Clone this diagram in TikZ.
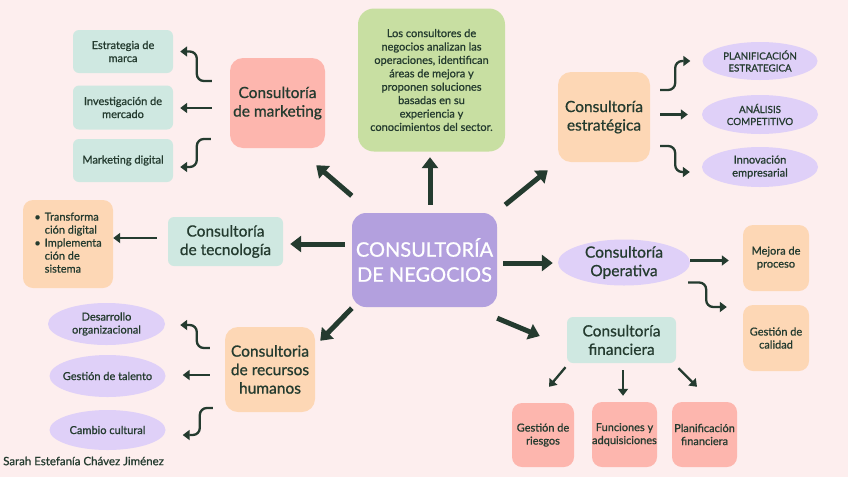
\documentclass[tikz,border=0pt]{standalone}
\usepackage{fontspec}
\setmainfont{Lato}[FakeBold=0.8]
\usetikzlibrary{arrows.meta,calc,shapes.geometric}
\definecolor{bg}{HTML}{FDEEEE}
\definecolor{mint}{HTML}{CFE8E1}
\definecolor{pinkc}{HTML}{FDB6AE}
\definecolor{peach}{HTML}{FDD7B5}
\definecolor{lav}{HTML}{DFD0F8}
\definecolor{purp}{HTML}{B3A0DE}
\definecolor{greenc}{HTML}{C8DFA2}
\definecolor{ink}{HTML}{243B2F}
\tikzset{
  base/.style={inner sep=0pt, align=center, text=ink},
  smalltxt/.style={font=\fontsize{11}{13}\selectfont},
  titletxt/.style={font=\fontsize{15.5}{18.5}\selectfont},
  sqbox/.style={base, rounded corners=6pt},
  ell/.style={ellipse, fill=lav, inner sep=0pt},
  labtxt/.style={base, smalltxt},
  big/.style={line width=5pt, draw=ink, -{Triangle[length=11pt,width=16pt]}},
  thinarr/.style={line width=2.3pt, draw=ink, rounded corners=7pt, -{Triangle[length=7pt,width=10pt]}},
}
\begin{document}
\begin{tikzpicture}[x=1pt,y=-1pt]
\useasboundingbox (0,0) rectangle (848,477);
\fill[bg] (0,0) rectangle (848,477);

% central
\node[sqbox, rounded corners=14pt, fill=purp, minimum width=145, minimum height=94, text=white,
  font=\fontsize{20}{25}\selectfont] (c) at (424.5,260) {CONSULTORÍA\\DE NEGOCIOS};

% description
\node[sqbox, rounded corners=16pt, fill=greenc, minimum width=147, minimum height=143,
  font=\fontsize{11}{13.4}\selectfont] (g) at (431.5,80)
  {Los consultores de\\negocios analizan las\\operaciones, identifican\\áreas de mejora y\\proponen soluciones\\basadas en su\\experiencia y\\conocimientos del sector.};

% marketing
\node[sqbox, rounded corners=13pt, fill=pinkc, minimum width=95, minimum height=90, titletxt] (mkt) at (277.5,103) {Consultoría\\de marketing};
\node[sqbox, fill=mint, minimum width=100, minimum height=43, smalltxt] (s1) at (123,51.5) {Estrategia de\\marca};
\node[sqbox, fill=mint, minimum width=100, minimum height=44, smalltxt] (s2) at (123,107.5) {Investigación de\\mercado};
\node[sqbox, fill=mint, minimum width=100, minimum height=43, smalltxt] (s3) at (123,160.5) {Marketing digital};

% estrategica
\node[sqbox, rounded corners=13pt, fill=peach, minimum width=92, minimum height=90, titletxt] (str) at (604,117) {Consultoría\\estratégica};
\node[ell, minimum width=115, minimum height=38] (e1) at (760,61) {};
\node[labtxt, font=\fontsize{9.8}{12}\selectfont] (e1t) at (e1) {PLANIFICACIÓN\\ESTRATEGICA};
\node[ell, minimum width=116, minimum height=39] (e2) at (760,114.5) {};
\node[labtxt, font=\fontsize{9.8}{12}\selectfont] (e2t) at (e2) {ANÁLISIS\\COMPETITIVO};
\node[ell, minimum width=116, minimum height=40] (e3) at (760,167) {};
\node[labtxt] (e3t) at (e3) {Innovación\\empresarial};

% tecnologia
\node[sqbox, fill=mint, minimum width=115, minimum height=49, titletxt] (tec) at (225.5,241.5) {Consultoría\\de tecnología};
\node[sqbox, rounded corners=10pt, fill=peach, minimum width=90, minimum height=88, smalltxt] (bul) at (68,244)
  {\begin{tabular}{@{}l@{\hspace{4pt}}l@{}}\textbullet & Transforma\\ & ción digital\\ \textbullet & Implementa\\ & ción de\\ & sistema\end{tabular}};

% operativa
\node[ell, minimum width=132, minimum height=46] (op) at (624,262.5) {};
\node[base, titletxt] (opt) at (op) {Consultoría\\Operativa};
\node[sqbox, rounded corners=10pt, fill=peach, minimum width=66, minimum height=66, smalltxt] (mej) at (776,258) {Mejora de\\proceso};
\node[sqbox, rounded corners=10pt, fill=peach, minimum width=66, minimum height=66, smalltxt] (cal) at (776,338) {Gestión de\\calidad};

% financiera
\node[sqbox, fill=mint, minimum width=109, minimum height=46, titletxt] (fin) at (621.5,340) {Consultoría\\financiera};
\node[sqbox, rounded corners=10pt, fill=pinkc, minimum width=62, minimum height=64, smalltxt] (rie) at (543,435) {Gestión de\\riesgos};
\node[sqbox, rounded corners=10pt, fill=pinkc, minimum width=65, minimum height=65, smalltxt] (fun) at (624.5,434.5) {Funciones y\\adquisiciones};
\node[sqbox, rounded corners=10pt, fill=pinkc, minimum width=65, minimum height=65, smalltxt] (pla) at (704.5,434.5) {Planificación\\financiera};

% recursos humanos
\node[sqbox, rounded corners=13pt, fill=peach, minimum width=90, minimum height=85, titletxt] (rh) at (270,369.5) {Consultoria\\de recursos\\humanos};
\node[ell, minimum width=117, minimum height=42] (d1) at (106.5,324) {};
\node[labtxt] (d1t) at (d1) {Desarrollo\\organizacional};
\node[ell, minimum width=116, minimum height=42] (d2) at (107.5,376) {};
\node[labtxt] (d2t) at (d2) {Gestión de talento};
\node[ell, minimum width=116, minimum height=40] (d3) at (107.5,430) {};
\node[labtxt] (d3t) at (d3) {Cambio cultural};

% signature
\node[base, font=\fontsize{11.5}{13}\selectfont, anchor=west] (sig) at (3,461) {Sarah Estefanía Chávez Jiménez};

% thick arrows from center
\draw[big] ($(c.north west)+(0,-17)$) -- ($(mkt.south east)+(-9,17)$);
\draw[big] ($(c.north)+(5.5,-8)$) -- ($(g.south)+(-1.5,5.5)$);
\draw[big] ($(c.north east)+(8,-8)$) -- ($(str.south west)+(-10,8)$);
\draw[big] ($(c.west)+(-7,-16)$) -- ($(tec.east)+(7,2.5)$);
\draw[big] ($(c.east)+(6,3)$) -- ($(op.west)+(-5,0.5)$);
\draw[big] ($(c.south east)+(0,11)$) -- ($(fin.west)+(-27,-4)$);
\draw[big] ($(c.south west)+(0,1)$) -- ($(rh.north east)+(5,14)$);

% marketing arrows
\draw[thinarr] ($(mkt.west)+(-18,-22)$) -- ++(-15,0) |- ($(s1.east)+(7,0)$);
\draw[thinarr] ($(mkt.west)+(-18,5)$) -- ($(s2.east)+(7,0.5)$);
\draw[thinarr] ($(mkt.west)+(-19,36)$) -- ++(-14,0) |- ($(s3.east)+(7,6.5)$);

% strategy arrows
\draw[thinarr] ($(str.east)+(10,-27)$) -- ++(15,0) |- ($(e1.west)+(-12,0)$);
\draw[thinarr] ($(str.east)+(10,-2.5)$) -- ($(e2.west)+(-14,0)$);
\draw[thinarr] ($(str.east)+(10,29)$) -- ++(15,0) |- ($(e3.west)+(-12,5)$);

% technology arrow
\draw[thinarr] ($(tec.west)+(-11,-3.5)$) -- ($(bul.east)+(0,-6)$);

% operativa arrows
\draw[thinarr] ($(op.east)+(0,-2)$) -- ($(mej.west)+(-14,2.5)$);
\draw[thinarr] ($(op.east)+(-2,20)$) -- ++(18,0) |- ($(cal.west)+(-16,-31)$);

% financiera arrows
\draw[thinarr] ($(fin.south)+(-56,4)$) -- ($(rie.north)+(6,-16)$);
\draw[thinarr] ($(fin.south)+(1.5,7)$) -- ($(fun.north)+(-1.5,-6)$);
\draw[thinarr] ($(fin.south)+(57,5)$) -- ($(pla.north)+(-7.5,-15)$);

% recursos humanos arrows
\draw[thinarr] ($(rh.west)+(-15,-21.5)$) -- ++(-13,0) |- ($(d1.east)+(15,1)$);
\draw[thinarr] ($(rh.west)+(-15,5.5)$) -- ($(d2.east)+(17,-1)$);
\draw[thinarr] ($(rh.west)+(-12,38.5)$) -- ++(-13,0) |- ($(d3.east)+(17,5)$);
\end{tikzpicture}
\end{document}
